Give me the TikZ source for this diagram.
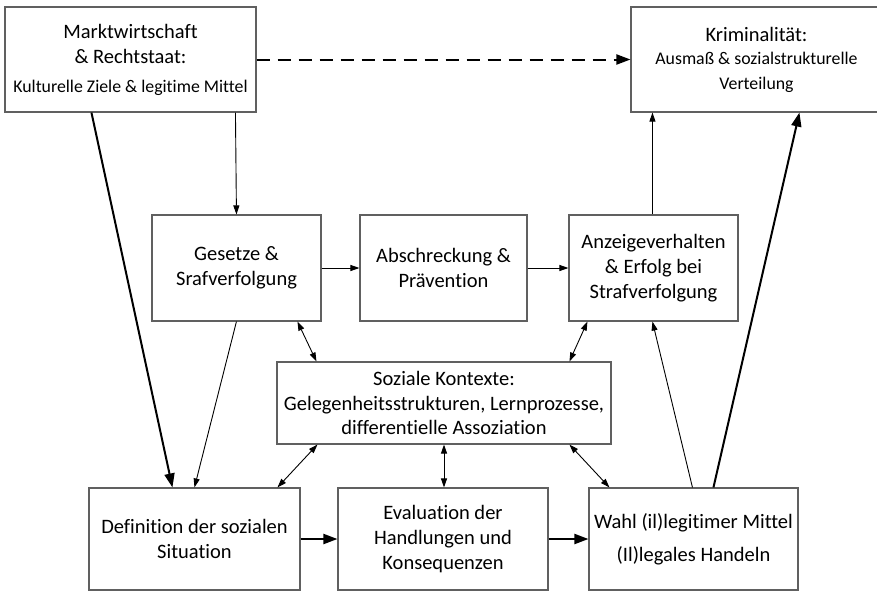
\documentclass[tikz,border=0pt]{standalone}
\usepackage{fontspec}
\setmainfont{Carlito}[Ligatures=NoCommon]
\usetikzlibrary{arrows.meta,calc}
\definecolor{boxgray}{HTML}{606060}
\begin{document}
\begin{tikzpicture}[x=1pt,y=-1pt,
  box/.style={draw=boxgray, line width=1.1pt, fill=white, inner sep=0pt, align=center,
    font=\fontsize{20.5}{25}\selectfont, text=black},
  thinarr/.style={line width=0.9pt, -{Triangle[length=9pt,width=6pt]}},
  thickarr/.style={line width=2pt, -{Triangle[length=14pt,width=10pt]}},
  botharr/.style={line width=0.9pt, {Triangle[length=9pt,width=6pt]}-{Triangle[length=9pt,width=6pt]}}]
\useasboundingbox (0,0) rectangle (877,592);

% boxes
\node[box, minimum width=251pt, minimum height=105pt] (A) at (130.5,59.5)
  {Marktwirtschaft\\\& Rechtstaat:\\[4pt]{\fontsize{17.8}{22}\selectfont Kulturelle Ziele \& legitime Mittel}};
\node[box, minimum width=251pt, minimum height=105pt] (K) at (756.5,59.5)
  {Kriminalität:\\[-2pt]{\fontsize{17.8}{22.5}\selectfont Ausmaß \& sozialstrukturelle}\\{\fontsize{17.8}{22.5}\selectfont Verteilung}};
\node[box, minimum width=169pt, minimum height=106pt] (G) at (236.5,268)
  {Gesetze \&\\Srafverfolgung};
\node[box, minimum width=167pt, minimum height=106pt] (B) at (443.5,268)
  {Abschreckung \&\\Prävention};
\node[box, minimum width=169pt, minimum height=106pt] (Z) at (653.5,268)
  {Anzeigeverhalten\\\& Erfolg bei\\Strafverfolgung};
\node[box, minimum width=334pt, minimum height=82pt, font=\fontsize{20.5}{24.5}\selectfont] (S) at (444,403)
  {Soziale Kontexte:\\Gelegenheitsstrukturen, Lernprozesse,\\differentielle Assoziation};
\node[box, minimum width=211pt, minimum height=102pt] (D) at (194.5,539)
  {Definition der sozialen\\Situation};
\node[box, minimum width=210pt, minimum height=102pt] (E) at (443,539)
  {Evaluation der\\Handlungen und\\Konsequenzen};
\node[box, minimum width=209pt, minimum height=102pt] (W) at (693.5,539)
  {Wahl (il)legitimer Mittel\\[8pt](Il)legales Handeln};

% connectors
\draw[line width=2pt, dash pattern=on 13pt off 8pt, -{Triangle[length=14pt,width=10pt]}] (A.east) -- (K.west);
\draw[thickarr] ($(A.south west)+(87,0)$) -- ($(D.north west)+(84,0)$);
\draw[thinarr] ($(A.south west)+(231,0)$) -- ($(G.north west)+(85,0)$);
\draw[thinarr] ($(G.south west)+(85,0)$) -- ($(D.north west)+(106,0)$);
\draw[thinarr] (G.east) -- (B.west);
\draw[thinarr] (B.east) -- (Z.west);
\draw[thinarr] ($(Z.north west)+(84,0)$) -- ($(K.south west)+(22,0)$);
\draw[botharr] ($(G.south west)+(146,0)$) -- ($(S.north west)+(40,0)$);
\draw[botharr] ($(Z.south west)+(19,0)$) -- ($(S.north west)+(293,0)$);
\draw[botharr] ($(S.south west)+(41,0)$) -- ($(D.north west)+(189,0)$);
\draw[botharr] (S.south) -- (S.south |- E.north);
\draw[botharr] ($(S.south west)+(293,0)$) -- ($(W.north west)+(21,0)$);
\draw[thickarr] (D.east) -- (E.west);
\draw[thickarr] (E.east) -- (W.west);
\draw[thinarr] ($(W.north west)+(104,0)$) -- ($(Z.south west)+(84,0)$);
\draw[thickarr] ($(W.north west)+(125,0)$) -- ($(K.south west)+(169,0)$);
\end{tikzpicture}
\end{document}
